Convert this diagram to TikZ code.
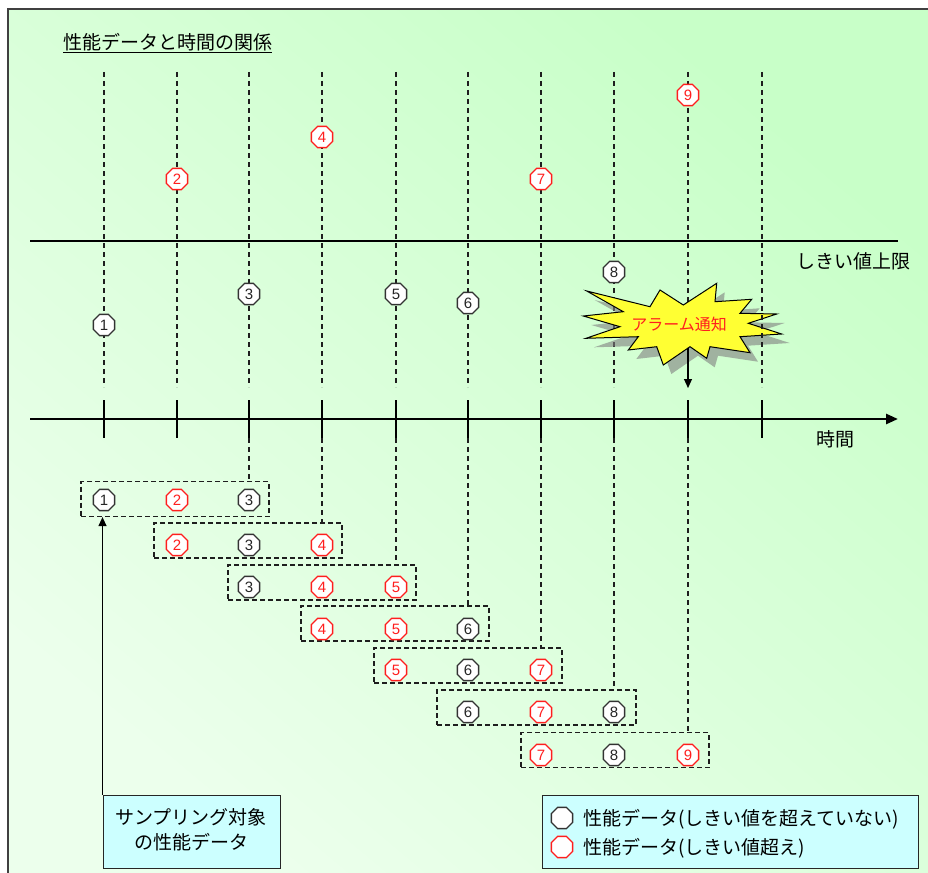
\documentclass[tikz,border=0pt]{standalone}
\usepackage{fontspec}
\setmainfont{Noto Sans CJK JP}
\newfontfamily\digitfont{Liberation Sans}
\usetikzlibrary{arrows.meta,shapes.geometric}
\definecolor{bgdark}{RGB}{200,255,200}
\definecolor{bglight}{RGB}{236,255,236}
\definecolor{boxcyan}{RGB}{204,255,255}
\definecolor{burstyellow}{RGB}{255,255,51}
\definecolor{numred}{RGB}{255,30,30}
\definecolor{lineblack}{RGB}{30,30,30}
\begin{document}
\begin{tikzpicture}[x=1pt,y=-1pt,
  jp/.style={font=\fontsize{18}{20}\selectfont, inner sep=0pt},
  num/.style={regular polygon, regular polygon sides=8, fill=white, inner sep=0pt,
    minimum size=23pt, line width=1.3pt, font=\digitfont\fontsize{15}{15}\selectfont},
  blk/.style={num, draw=black!80, text=black!85},
  rdn/.style={num, draw=numred, text=numred},
  vdash/.style={draw=lineblack, line width=1.1pt, dash pattern=on 5pt off 4pt},
  rowbox/.style={draw=lineblack, line width=1.2pt, dash pattern=on 5pt off 3pt,
    minimum height=35pt, inner sep=0pt},
  thick line/.style={draw=black, line width=2.6pt},
  tick/.style={draw=black, line width=1.4pt},
  infobox/.style={draw=black!85, line width=1pt, fill=boxcyan, inner sep=0pt}
]
\useasboundingbox (0,0) rectangle (928,872);
% background
\shade[bottom color=bglight, top color=bgdark, shading angle=-40] (8,9) rectangle (932,876);
\draw[black!75, line width=1.2pt] (932,9) -- (8,9) -- (8,876);

% title
\node[jp, anchor=west, font=\fontsize{19}{21}\selectfont] (title) at (63,43) {\underline{性能データと時間の関係}};

% vertical dashed guide lines (top region)
\foreach \i/\x in {1/104,2/177,3/249,4/322,5/396,6/468,7/541,8/614,9/688}{
  \coordinate (top\i) at (\x,72);
  \coordinate (low\i) at (\x,387);
  \draw[vdash] (top\i) -- (low\i);
}
\coordinate (top10) at (762,72);
\coordinate (low10) at (762,387);

% threshold line
\coordinate (thL) at (30,241);
\coordinate (thR) at (898,241);
\draw[thick line] (thL) -- (thR);
\node[jp, anchor=east, font=\fontsize{19}{21}\selectfont] (thlabel) at (911,261) {しきい値上限};

% time axis
\coordinate (axL) at (30,419);
\coordinate (axR) at (898,419);
\draw[thick line, -{Triangle[length=12pt,width=10pt]}] (axL) -- (axR);
\node[jp, anchor=west, font=\fontsize{19}{21}\selectfont] (timelabel) at (816,439) {時間};

% ticks
\foreach \i/\x in {1/104,2/177,3/249,4/322,5/396,6/468,7/541,8/614,9/688,10/762}{
  \coordinate (tkt\i) at (\x,400);
  \coordinate (tkb\i) at (\x,438);
  \draw[tick] (tkt\i) -- (tkb\i);
}

% data points
\node[blk] (t1) at (104,325) {1};
\node[rdn] (t2) at (177,179) {2};
\node[blk] (t3) at (249,294) {3};
\node[rdn] (t4) at (322,137) {4};
\node[blk] (t5) at (396,294) {5};
\node[blk] (t6) at (468,303) {6};
\node[rdn] (t7) at (541,179) {7};
\node[blk] (t8) at (614,272) {8};
\node[rdn] (t9) at (688,95) {9};

% alarm burst
\def\burstpath{(586.7,291) -- (650,306.7) -- (660,290) -- (683.3,305) -- (716.7,283.3) -- (715,301.7) -- (751.7,299.3) -- (740,313.3) -- (776.7,314) -- (748.3,323.3) -- (781.7,334) -- (740,336.7) -- (750,352.7) -- (710,346.7) -- (706.7,358.3) -- (690,346.7) -- (663.3,365) -- (656.7,346.7) -- (628.3,350) -- (638.3,336.7) -- (586,338.3) -- (620,326.7) -- (583.3,316) -- (623.3,311.7) -- cycle}
\fill[black!50, opacity=0.6, shift={(8,9)}] \burstpath;
\draw[black, line width=1pt, fill=burstyellow] \burstpath;
\node[font=\fontsize{16}{18}\selectfont, text=numred, inner sep=0pt] (alarm) at (679,324) {アラーム通知};
\coordinate (alarmbot) at (688,348);
\coordinate (alarmend) at (688,388);
\draw[black, line width=1.2pt, -{Triangle[length=9pt,width=8pt]}] (alarmbot) -- (alarmend);
\draw[vdash] (top10) -- (low10);

% sliding windows
\node[rowbox, minimum width=188pt] (r1) at (175,499) {};
\node[rowbox, minimum width=188pt] (r2) at (248,540.5) {};
\node[rowbox, minimum width=188pt] (r3) at (322,582.5) {};
\node[rowbox, minimum width=188pt] (r4) at (395,623.5) {};
\node[rowbox, minimum width=188pt] (r5) at (468,665.5) {};
\node[rowbox, minimum width=199pt] (r6) at (536.5,707.5) {};
\node[rowbox, minimum width=188pt] (r7) at (615,750) {};

% connectors from ticks to windows
\draw[vdash] (tkb3) -- (tkb3 |- r1.north);
\draw[vdash] (tkb4) -- (tkb4 |- r2.north);
\draw[vdash] (tkb5) -- (tkb5 |- r3.north);
\draw[vdash] (tkb6) -- (tkb6 |- r4.north);
\draw[vdash] (tkb7) -- (tkb7 |- r5.north);
\draw[vdash] (tkb8) -- (tkb8 |- r6.north);
\draw[vdash] (tkb9) -- (tkb9 |- r7.north);

% window contents
\node[blk] (b11) at (104,500) {1};
\node[rdn] (b12) at (177,500) {2};
\node[blk] (b13) at (249,500) {3};
\node[rdn] (b21) at (177,545) {2};
\node[blk] (b22) at (249,545) {3};
\node[rdn] (b23) at (322,545) {4};
\node[blk] (b31) at (249,587) {3};
\node[rdn] (b32) at (322,587) {4};
\node[rdn] (b33) at (396,587) {5};
\node[rdn] (b41) at (322,629) {4};
\node[rdn] (b42) at (396,629) {5};
\node[blk] (b43) at (468,629) {6};
\node[rdn] (b51) at (396,670) {5};
\node[blk] (b52) at (468,670) {6};
\node[rdn] (b53) at (541,670) {7};
\node[blk] (b61) at (468,712) {6};
\node[rdn] (b62) at (541,712) {7};
\node[blk] (b63) at (614,712) {8};
\node[rdn] (b71) at (541,755) {7};
\node[blk] (b72) at (614,755) {8};
\node[rdn] (b73) at (688,755) {9};

% sampling target box
\node[infobox, minimum width=177pt, minimum height=73pt] (samp) at (191.5,831.5) {};
\node[jp, align=center, font=\fontsize{19}{25}\selectfont] (samptext) at (191,830) {サンプリング対象\\の性能データ};
\draw[black, line width=1.2pt, -{Triangle[length=9pt,width=8pt]}] (samp.north west) -- (samp.north west |- r1.south);

% legend
\node[infobox, minimum width=376pt, minimum height=73pt] (legend) at (730,831.5) {};
\node[blk, minimum size=23pt] (lg1) at (562,818) {};
\node[rdn, minimum size=23pt] (lg2) at (562,847) {};
\node[jp, anchor=west, font=\fontsize{19}{21}\selectfont] (lgt1) at (583,819) {性能データ(しきい値を超えていない)};
\node[jp, anchor=west, font=\fontsize{19}{21}\selectfont] (lgt2) at (583,848) {性能データ(しきい値超え)};
\end{tikzpicture}
\end{document}
